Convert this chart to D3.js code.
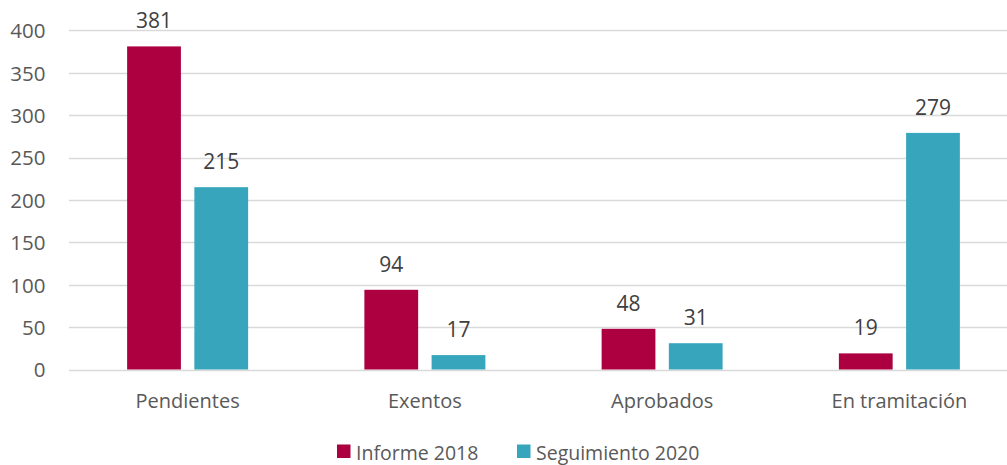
<!DOCTYPE html>
<html>
<head>
  <meta charset="utf-8">
  <title>Informe 2018 vs Seguimiento 2020</title>
  <script src="https://cdnjs.cloudflare.com/ajax/libs/d3/7.8.5/d3.min.js"></script>
  <style>
    html, body { margin: 0; padding: 0; background: #fff; }
    svg { display: block; font-family: "Open Sans", "Noto Sans", sans-serif; }
  </style>
</head>
<body>
  <svg id="chart" width="1007" height="465"></svg>
  <script>
    const categories = ['Pendientes', 'Exentos', 'Aprobados', 'En tramitación']
    const seriesNames = ['Informe 2018', 'Seguimiento 2020']
    const informe2018 = [381, 94, 48, 19]
    const seguimiento2020 = [215, 17, 31, 279]
    const yTicks = [0, 50, 100, 150, 200, 250, 300, 350, 400]
    const colors = ['#ad0040', '#37a6bc']

    const width = 1007
    const height = 465
    const margin = { left: 69, right: -11, top: 30.3, bottom: 95 } // last band runs off the edge

    const svg = d3.select('#chart')

    const x = d3.scaleBand()
      .domain(categories)
      .range([margin.left, width - margin.right])
      .paddingInner(0.49)
      .paddingOuter(0.245)

    const xs = d3.scaleBand()
      .domain(seriesNames)
      .range([0, x.bandwidth()])
      .paddingInner(0.2)

    const y = d3.scaleLinear()
      .domain([0, 400])
      .range([height - margin.bottom - 0.5, margin.top])

    // gridlines
    svg.append('g')
      .selectAll('line')
      .data(yTicks)
      .join('line')
      .attr('x1', margin.left)
      .attr('x2', width - margin.right)
      .attr('y1', d => Math.round(y(d)) + 0.5)
      .attr('y2', d => Math.round(y(d)) + 0.5)
      .attr('stroke', '#d9d9d9')
      .attr('stroke-width', 1.3)

    // y axis labels
    const yAxis = d3.axisLeft(y).tickValues(yTicks).tickSize(0).tickPadding(0)
    svg.append('g')
      .attr('transform', 'translate(45.5,0)')
      .call(yAxis)
      .call(g => g.select('.domain').remove())
      .selectAll('text')
      .attr('dy', '0.36em')
      .attr('font-size', 20.5)
      .attr('font-family', '"Open Sans", sans-serif')
      .attr('fill', '#595959')

    const series = [informe2018, seguimiento2020]
    const rows = []
    categories.forEach((c, i) => {
      seriesNames.forEach((s, j) => rows.push({ cat: c, name: s, value: series[j][i], color: colors[j] }))
    })

    // bars
    svg.append('g')
      .selectAll('rect')
      .data(rows)
      .join('rect')
      .attr('x', d => x(d.cat) + xs(d.name))
      .attr('y', d => y(d.value))
      .attr('width', xs.bandwidth())
      .attr('height', d => y(0) - y(d.value))
      .attr('fill', d => d.color)

    // value labels
    svg.append('g')
      .selectAll('text')
      .data(rows)
      .join('text')
      .attr('x', d => x(d.cat) + xs(d.name) + xs.bandwidth() / 2)
      .attr('y', d => y(d.value) - 18)
      .attr('text-anchor', 'middle')
      .attr('font-size', 21)
      .attr('fill', '#404040')
      .text(d => d.value)

    // category labels
    const xAxis = d3.axisBottom(x).tickSize(0).tickPadding(0)
    svg.append('g')
      .attr('transform', `translate(0,${y(0)})`)
      .call(xAxis)
      .call(g => g.select('.domain').remove())
      .selectAll('text')
      .attr('dy', null)
      .attr('y', 38)
      .attr('font-size', 20)
      .attr('font-family', '"Open Sans", sans-serif')
      .attr('fill', '#595959')

    // legend
    const legendX = [337, 517]
    const legend = svg.append('g')
      .selectAll('g')
      .data(seriesNames)
      .join('g')
      .attr('transform', (d, i) => `translate(${legendX[i]},444.5)`)
    legend.append('rect')
      .attr('width', 13.5)
      .attr('height', 13.5)
      .attr('fill', (d, i) => colors[i])
    legend.append('text')
      .attr('x', 19)
      .attr('y', 15)
      .attr('font-size', 19.5)
      .attr('fill', '#595959')
      .text(d => d)
  </script>
</body>
</html>
